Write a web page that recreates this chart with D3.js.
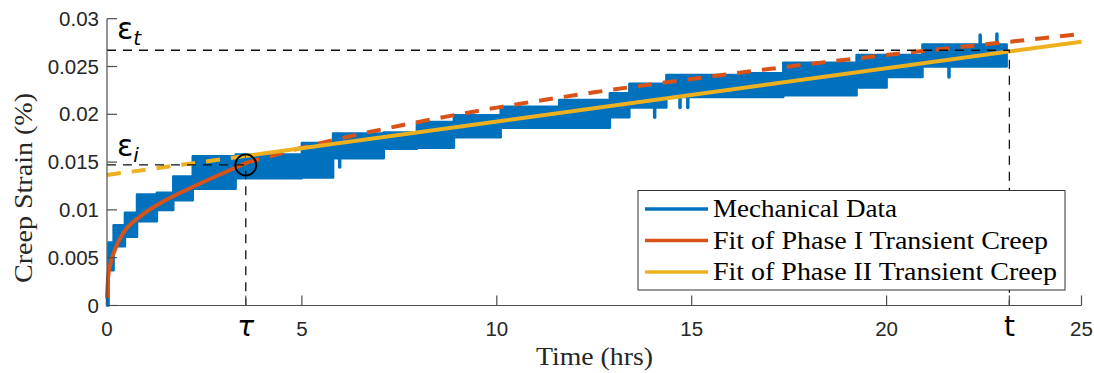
<!DOCTYPE html>
<html>
<head>
<meta charset="utf-8">
<script src="https://cdn.jsdelivr.net/npm/d3@7"></script>
<style>
  html, body { margin: 0; padding: 0; background: #fff; }
  svg { display: block; }
</style>
</head>
<body>
<svg id="chart" width="1094" height="373"></svg>
<script>
// Creep strain record: step bands of the measured signal (start time, low, high)
const blueStart = [0, 0.04, 0.17, 0.46, 0.77, 1.28, 1.7, 2.2, 3.3, 5.0, 5.8, 7.1, 7.95, 8.9, 10.1, 11.6, 12.9, 13.4, 14.35, 16.3, 17.35, 19.23, 20.0, 20.92];
const blueLo    = [0, 0.0037, 0.0062, 0.0072, 0.0088, 0.0100, 0.0110, 0.0122, 0.0133, 0.0134, 0.0154, 0.0164, 0.0165, 0.0176, 0.0186, 0.0186, 0.0197, 0.0207, 0.0218, 0.0218, 0.0220, 0.0228, 0.0239, 0.0250];
const blueHi    = [0.0012, 0.0066, 0.0084, 0.0097, 0.0116, 0.0118, 0.0135, 0.0156, 0.0158, 0.0170, 0.0180, 0.0181, 0.0192, 0.0199, 0.0208, 0.0215, 0.0222, 0.0232, 0.0241, 0.0243, 0.0254, 0.0262, 0.0262, 0.0273];
const blueEnd   = 23.08;
// isolated excursions of the signal (time, strain)
const spikeT = [5.97, 14.05, 14.7, 14.9, 21.6, 22.4, 22.83];
const spikeV = [0.0145, 0.0197, 0.0207, 0.0207, 0.0239, 0.0283, 0.0284];

// Phase I transient creep fit
const redT = [0, 0.03, 0.08, 0.2, 0.42, 0.85, 1.5, 2.2, 2.9, 3.56, 5, 7.5, 10, 12.5, 15, 17.5, 20, 22.5, 25];
const redE = [0.0008, 0.0030, 0.0042, 0.0058, 0.0076, 0.0093, 0.0110, 0.0124, 0.0137, 0.0149, 0.0165, 0.0188, 0.0207, 0.0223, 0.0237, 0.0250, 0.0262, 0.0273, 0.0284];

// Phase II transient creep fit (linear)
const yellowT = [0, 3.56, 25];
const yellowE = [0.01365, 0.01564, 0.0276];

// Markers
const tau = 3.56, tEnd = 23.15;
const epsI = 0.0147, epsT = 0.0267;

// Axis ticks
const xTickVals = [0, tau, 5, 10, 15, 20, tEnd, 25];
const xTickLabels = ["0", "τ", "5", "10", "15", "20", "t", "25"];
const yTickVals = [0, 0.005, 0.01, 0.015, 0.02, 0.025, 0.03];
const yTickLabels = ["0", "0.005", "0.01", "0.015", "0.02", "0.025", "0.03"];

const legendNames = ["Mechanical Data", "Fit of Phase I Transient Creep", "Fit of Phase II Transient Creep"];
const legendWidths = [184, 335, 344];
const colors = ["#0072BD", "#D95319", "#EDB120"];
const serif = "Liberation Serif, Times New Roman, serif";

const svg = d3.select("#chart");
const x = d3.scaleLinear().domain([0, 25]).range([107, 1081.5]);
const y = d3.scaleLinear().domain([0, 0.03]).range([305.5, 18.7]);

// --- measured data band ---
const bandPts = blueStart.map((t, i) => ({t, lo: blueLo[i], hi: blueHi[i]}));
bandPts.push({t: blueEnd, lo: blueLo[blueLo.length - 1], hi: blueHi[blueHi.length - 1]});
const area = d3.area().x(d => x(d.t)).y0(d => y(d.lo)).y1(d => y(d.hi)).curve(d3.curveStepAfter);
svg.append("path").attr("d", area(bandPts))
  .attr("fill", colors[0]).attr("stroke", colors[0]).attr("stroke-width", 2.5)
  .attr("stroke-linejoin", "round");

// spikes
const bandAt = t => { const i = Math.max(0, d3.bisectRight(blueStart, t) - 1); return (blueLo[i] + blueHi[i]) / 2; };
svg.append("g").selectAll("line").data(spikeT).join("line")
  .attr("x1", d => x(d)).attr("x2", d => x(d))
  .attr("y1", d => y(bandAt(d))).attr("y2", (d, i) => y(spikeV[i]))
  .attr("stroke", colors[0]).attr("stroke-width", 3.5).attr("stroke-linecap", "round");

// --- fits ---
const line = d3.line().x(d => x(d[0])).y(d => y(d[1]));
const redPts = redT.map((t, i) => [t, redE[i]]);
const redCurve = d3.line().x(d => x(d[0])).y(d => y(d[1])).curve(d3.curveMonotoneX);
svg.append("path").attr("d", redCurve(redPts.filter(d => d[0] <= tau)))
  .attr("fill", "none").attr("stroke", colors[1]).attr("stroke-width", 4);
svg.append("path").attr("d", redCurve(redPts.filter(d => d[0] >= tau)))
  .attr("fill", "none").attr("stroke", colors[1]).attr("stroke-width", 4)
  .attr("stroke-dasharray", "14,11");

const yPts = yellowT.map((t, i) => [t, yellowE[i]]);
svg.append("path").attr("d", line(yPts.filter(d => d[0] <= tau)))
  .attr("fill", "none").attr("stroke", colors[2]).attr("stroke-width", 4)
  .attr("stroke-dasharray", "14,11");
svg.append("path").attr("d", line(yPts.filter(d => d[0] >= tau)))
  .attr("fill", "none").attr("stroke", colors[2]).attr("stroke-width", 4);

// --- reference lines ---
const guide = svg.append("g").attr("fill", "none").attr("stroke", "#111")
  .attr("stroke-width", 1.3).attr("stroke-dasharray", "9,7");
guide.append("path").attr("d", line([[0, epsT], [tEnd, epsT], [tEnd, 0]]));
guide.append("path").attr("d", line([[0, epsI], [tau, epsI], [tau, 0]]));
svg.append("circle").attr("cx", x(tau)).attr("cy", y(epsI)).attr("r", 10.5)
  .attr("fill", "none").attr("stroke", "#000").attr("stroke-width", 1.8);

// --- axes ---
const axisColor = "#4d4d4d";
const axG = svg.append("g").attr("stroke", axisColor).attr("stroke-width", 1.2).attr("fill", "none");
axG.append("line").attr("x1", x(0)).attr("x2", x(0)).attr("y1", y(0)).attr("y2", y(0.03));
axG.append("line").attr("x1", x(0)).attr("x2", x(25)).attr("y1", y(0)).attr("y2", y(0));
axG.selectAll(".yt").data(yTickVals).join("line")
  .attr("x1", x(0)).attr("x2", x(0) + 10).attr("y1", d => y(d)).attr("y2", d => y(d));
axG.selectAll(".xt").data(xTickVals.filter(v => v > 0)).join("line")
  .attr("x1", d => x(d)).attr("x2", d => x(d)).attr("y1", y(0)).attr("y2", y(0) - 10);

svg.append("g").selectAll("text").data(yTickVals).join("text")
  .attr("x", x(0) - 8).attr("y", d => y(d) + 7)
  .attr("text-anchor", "end").attr("font-family", "Liberation Sans, Arial, sans-serif")
  .attr("font-size", 20.5).attr("fill", "#262626")
  .text((d, i) => yTickLabels[i]);

const isSym = i => xTickLabels[i] === "τ" || xTickLabels[i] === "t";
svg.append("g").selectAll("text").data(xTickVals).join("text")
  .attr("x", d => x(d)).attr("y", 336)
  .attr("text-anchor", "middle")
  .attr("font-family", (d, i) => isSym(i) ? "DejaVu Sans, sans-serif" : "Liberation Sans, Arial, sans-serif")
  .attr("font-style", (d, i) => xTickLabels[i] === "τ" ? "italic" : "normal")
  .attr("font-size", (d, i) => isSym(i) ? 28 : 20.5)
  .attr("fill", (d, i) => isSym(i) ? "#000" : "#262626")
  .text((d, i) => xTickLabels[i]);

// axis titles
svg.append("text").attr("x", 594.5).attr("y", 365).attr("text-anchor", "middle")
  .attr("font-family", serif).attr("font-size", 25).attr("fill", "#262626")
  .attr("textLength", 117).attr("lengthAdjust", "spacingAndGlyphs")
  .text("Time (hrs)");
svg.append("text").attr("transform", "translate(32,188) rotate(-90)").attr("text-anchor", "middle")
  .attr("font-family", serif).attr("font-size", 25).attr("fill", "#262626")
  .attr("textLength", 190).attr("lengthAdjust", "spacingAndGlyphs")
  .text("Creep Strain (%)");

// epsilon annotations
function epsLabel(px, py, sub) {
  const t = svg.append("text").attr("x", px).attr("y", py)
    .attr("font-family", "DejaVu Sans, sans-serif").attr("fill", "#000");
  t.append("tspan").attr("font-size", 30).text("ε");
  t.append("tspan").attr("font-size", 20).attr("font-style", "italic").attr("dy", 6).text(sub);
}
epsLabel(117, 39, "t");
epsLabel(117, 156, "i");

// --- legend ---
const leg = svg.append("g");
leg.append("rect").attr("x", 638).attr("y", 190.5).attr("width", 427).attr("height", 99.5)
  .attr("fill", "#fff").attr("stroke", "#333").attr("stroke-width", 1);
legendNames.forEach((name, i) => {
  const ly = 209 + i * 31.5;
  leg.append("line").attr("x1", 645).attr("x2", 708).attr("y1", ly).attr("y2", ly)
    .attr("stroke", colors[i]).attr("stroke-width", 3.5);
  leg.append("text").attr("x", 713).attr("y", ly + 8)
    .attr("font-family", serif).attr("font-size", 25).attr("fill", "#000")
    .attr("textLength", legendWidths[i]).attr("lengthAdjust", "spacingAndGlyphs")
    .text(name);
});
</script>
</body>
</html>
